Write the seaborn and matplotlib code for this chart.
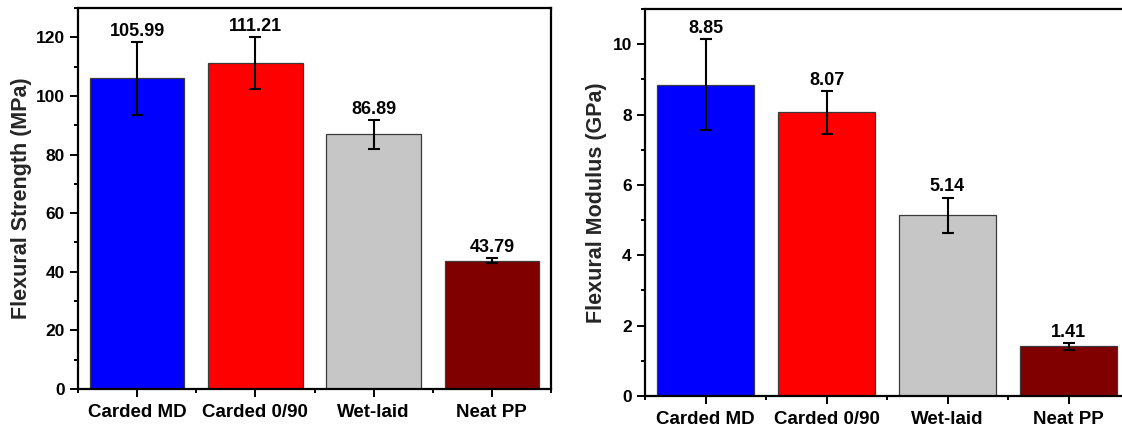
import matplotlib
matplotlib.use("Agg")
import matplotlib.pyplot as plt
from matplotlib.ticker import MultipleLocator, FixedLocator
import numpy as np
import pandas as pd
import seaborn as sns

# Flexural test results for the four sample types
samples = ["Carded MD", "Carded 0/90", "Wet-laid", "Neat PP"]
strength = [105.99, 111.21, 86.89, 43.79]
strength_err = [12.5, 8.9, 5.0, 0.8]
modulus = [8.85, 8.07, 5.14, 1.41]
modulus_err = [1.30, 0.61, 0.50, 0.09]
bar_colors = ["#0000FF", "#FF0000", "#C6C6C6", "#800000"]

sns.set_style("ticks")
plt.rcParams["font.family"] = ["Liberation Sans", "DejaVu Sans"]
plt.rcParams["font.weight"] = "bold"

fig = plt.figure(figsize=(11.22, 4.30), dpi=100)
ax1 = fig.add_axes([78 / 1122, 1 - 389 / 430, 473 / 1122, 381 / 430])
ax2 = fig.add_axes([645 / 1122, 1 - 396 / 430, 484 / 1122, 387 / 430])


def draw_panel(ax, values, errors, ylabel, ylim, major, minor, fmt, labelpad):
    df = pd.DataFrame({"sample": samples, "value": values})
    sns.barplot(data=df, x="sample", y="value", hue="sample", palette=bar_colors,
                order=samples, hue_order=samples, legend=False, width=0.8,
                edgecolor="#3a3a3a", linewidth=0.9, errorbar=None, ax=ax,
                saturation=1)
    xs = np.arange(len(samples))
    ax.errorbar(xs, values, yerr=errors, fmt="none", ecolor="black",
                elinewidth=1.5, capsize=4.3, capthick=1.5, zorder=5)
    for x, v, e in zip(xs, values, errors):
        ax.annotate(fmt.format(v), xy=(x, v + e), xytext=(0, 1.5),
                    textcoords="offset points", ha="center", va="bottom",
                    fontsize=13, fontweight="bold", color="black")
    ax.set_xlim(-0.5, len(samples) - 0.5)
    ax.set_ylim(*ylim)
    ax.yaxis.set_major_locator(MultipleLocator(major))
    ax.yaxis.set_minor_locator(MultipleLocator(minor))
    ax.xaxis.set_minor_locator(FixedLocator(np.arange(-0.5, len(samples), 1.0)))
    ax.set_xlabel("")
    ax.set_ylabel(ylabel, fontsize=15.5, fontweight="bold", labelpad=labelpad)
    for side in ["left", "right", "top", "bottom"]:
        ax.spines[side].set_visible(True)
        ax.spines[side].set_linewidth(1.6)
        ax.spines[side].set_color("black")
    ax.tick_params(axis="both", which="major", direction="out", length=6,
                   width=1.4, color="black", labelcolor="black")
    ax.tick_params(axis="both", which="minor", direction="out", length=3.2,
                   width=1.4, color="black")
    ax.tick_params(axis="y", labelsize=12.5)
    ax.tick_params(axis="x", labelsize=13.5, pad=5)
    for lab in ax.get_xticklabels() + ax.get_yticklabels():
        lab.set_fontweight("bold")


draw_panel(ax1, strength, strength_err, "Flexural Strength (MPa)", (0, 130), 20, 10, "{:.2f}", 3)
draw_panel(ax2, modulus, modulus_err, "Flexural Modulus (GPa)", (0, 11), 2, 1, "{:.2f}", 4)

fig.savefig("out.png", dpi=100)
